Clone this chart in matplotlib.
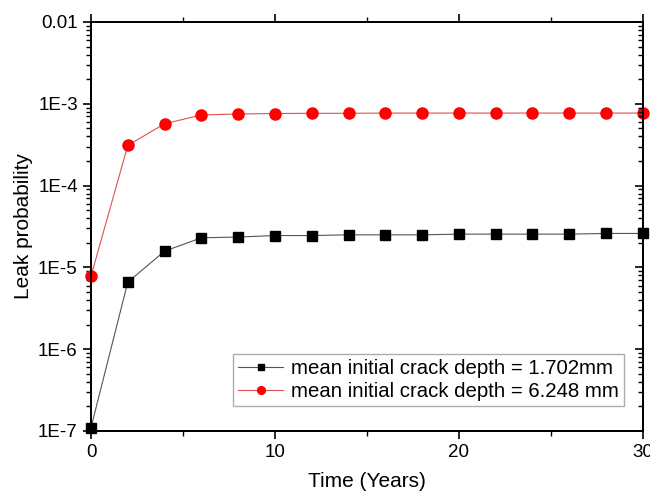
import matplotlib
matplotlib.use('Agg')
import matplotlib.pyplot as plt
from matplotlib.ticker import LogLocator, NullFormatter, MultipleLocator

plt.rcParams['font.family'] = ['Liberation Sans', 'DejaVu Sans']

years = [0, 2, 4, 6, 8, 10, 12, 14, 16, 18, 20, 22, 24, 26, 28, 30]
leak_1702 = [1.1e-7, 6.6e-6, 1.58e-5, 2.3e-5, 2.35e-5, 2.45e-5, 2.45e-5, 2.5e-5,
             2.5e-5, 2.5e-5, 2.55e-5, 2.55e-5, 2.55e-5, 2.55e-5, 2.6e-5, 2.6e-5]
leak_6248 = [7.8e-6, 3.1e-4, 5.7e-4, 7.3e-4, 7.5e-4, 7.6e-4, 7.65e-4, 7.65e-4,
             7.7e-4, 7.7e-4, 7.7e-4, 7.7e-4, 7.7e-4, 7.7e-4, 7.7e-4, 7.7e-4]
ytick_vals = [1e-7, 1e-6, 1e-5, 1e-4, 1e-3, 1e-2]
ytick_labels = ['1E-7', '1E-6', '1E-5', '1E-4', '1E-3', '0.01']

fig = plt.figure(figsize=(6.5, 4.95), dpi=100)
ax = fig.add_axes([0.14, 0.1293, 0.849, 0.8263])

ax.plot(years, leak_1702, color='#555555', lw=0.8, marker='s', ms=6.5,
        mfc='black', mec='black', label='mean initial crack depth = 1.702mm', clip_on=False, zorder=3)
ax.plot(years, leak_6248, color='#e05050', lw=0.8, marker='o', ms=8,
        mfc='red', mec='red', label='mean initial crack depth = 6.248 mm', clip_on=False, zorder=3)

ax.set_yscale('log')
ax.set_ylim(1e-7, 1e-2)
ax.set_xlim(0, 30)
ax.set_yticks(ytick_vals)
ax.set_yticklabels(ytick_labels)
ax.yaxis.set_minor_locator(LogLocator(base=10, subs=range(2, 10)))
ax.yaxis.set_minor_formatter(NullFormatter())
ax.xaxis.set_major_locator(MultipleLocator(10))
ax.xaxis.set_minor_locator(MultipleLocator(5))

for s in ax.spines.values():
    s.set_linewidth(1.3)

ax.tick_params(axis='both', which='major', direction='out', length=6, width=1.2,
               labelsize=13.5, top=True, right=False)
ax.tick_params(axis='both', which='minor', direction='out', length=3.5, width=1.0,
               top=True, right=False)

# right-hand ticks point inward
ax2 = ax.twinx()
ax2.set_yscale('log')
ax2.set_ylim(ax.get_ylim())
ax2.set_yticks(ytick_vals)
ax2.yaxis.set_minor_locator(LogLocator(base=10, subs=range(2, 10)))
ax2.yaxis.set_minor_formatter(NullFormatter())
ax2.tick_params(axis='y', which='major', direction='in', length=6, width=1.2, labelright=False)
ax2.tick_params(axis='y', which='minor', direction='in', length=3.5, width=1.0)
for s in ax2.spines.values():
    s.set_linewidth(1.3)

ax.set_xlabel('Time (Years)', fontsize=15, labelpad=8)
ax.set_ylabel('Leak probability', fontsize=15, labelpad=4)

leg = ax.legend(loc='lower right', bbox_to_anchor=(0.974, 0.05), fontsize=14.7,
                frameon=True, fancybox=False, edgecolor='#999999', markerscale=0.7,
                handlelength=2.2, borderpad=0.25, labelspacing=0.2, handletextpad=0.4,
                borderaxespad=0.2)
leg.get_frame().set_linewidth(1.0)

fig.savefig('out.png', dpi=100)
